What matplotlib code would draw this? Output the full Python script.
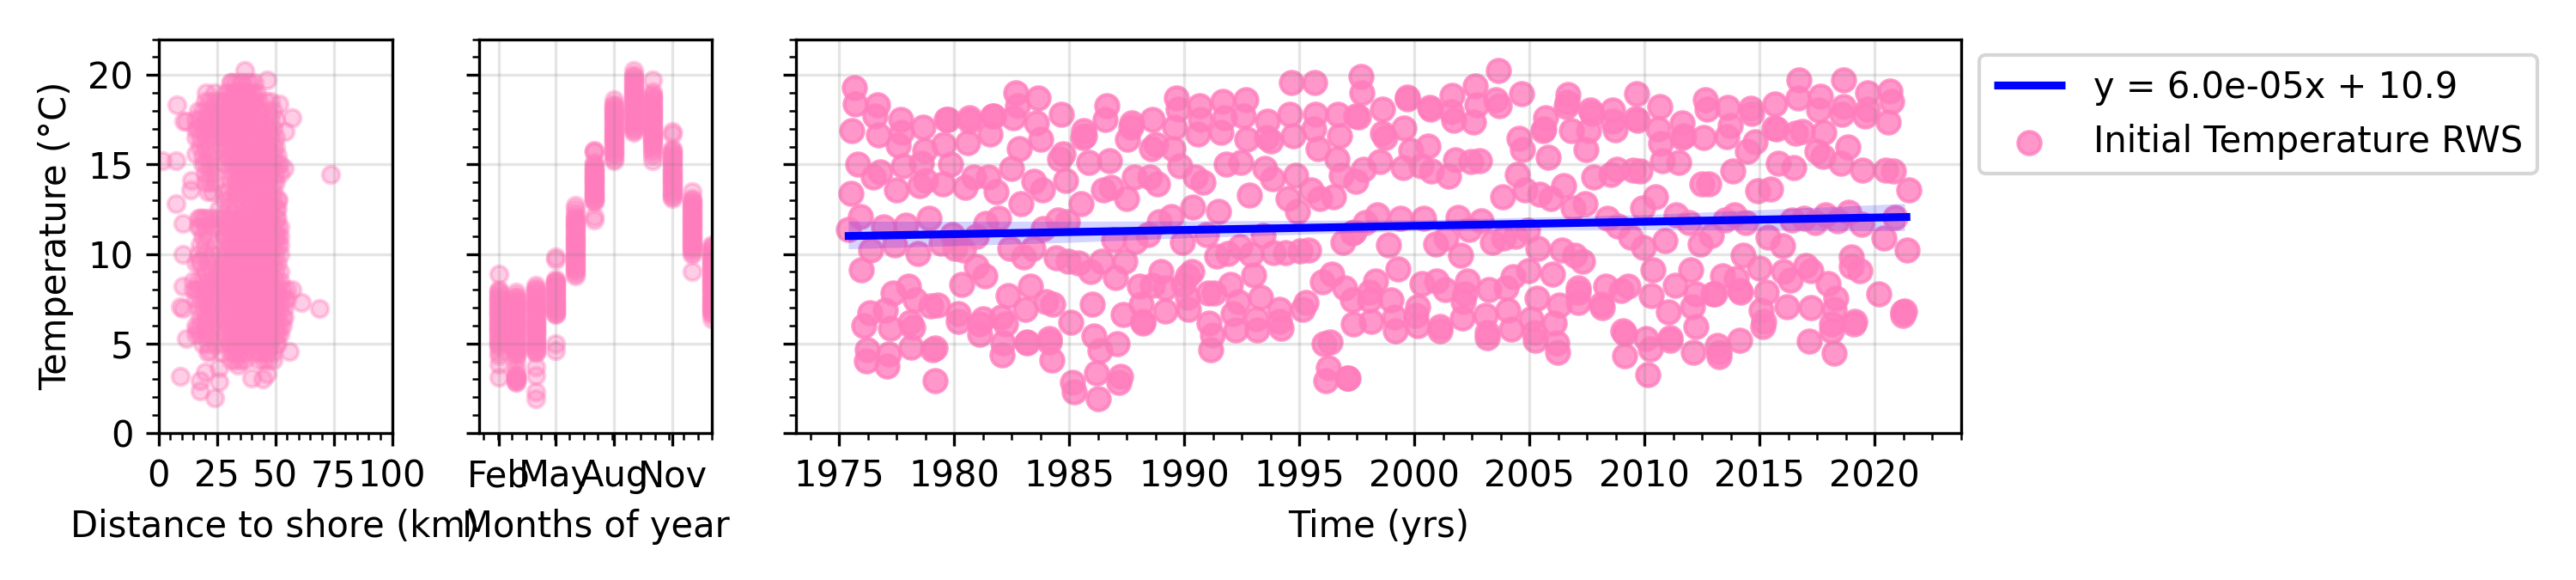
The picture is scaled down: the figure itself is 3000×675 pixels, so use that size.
import numpy as np
import matplotlib
matplotlib.use("Agg")
import matplotlib.pyplot as plt
from matplotlib.ticker import MultipleLocator, FixedLocator, AutoMinorLocator

# ---------- time series: decimal year / temperature ----------
years = [1975.65,1975.7,1975.57,1976.67,1976.58,1976.72,1977.58,1977.68,1977.72,1978.67,1975.83,1976.47,1976.8,1977.8,1978.58,1978.73,1975.5,1977.48,1978.5,1978.78,1979.5,1979.67,1979.75,1979.55,1979.85,1980.58,1980.65,1980.68,1981.58,1981.72,1981.68,1982.58,1982.68,1982.75,1983.67,1983.58,1983.75,1982.82,1984.65,1984.72,1984.6,1985.63,1985.67,1985.6,1986.63,1986.58,1985.85,1986.73,1984.83,1982.48,1980.85,1981.47,1980.48,1981.82,1983.48,1983.82,1982.92,1985.52,1986.47,1986.83,1987.48,1987.82,1988.5,1988.83,1987.55,1987.72,1987.68,1988.63,1988.75,1988.57,1989.52,1989.67,1989.72,1989.58,1989.82,1990.47,1990.8,1990.38,1991.48,1990.67,1990.72,1990.58,1991.67,1991.73,1991.6,1992.68,1992.58,1992.73,1993.63,1993.58,1993.77,1994.58,1994.72,1994.65,1995.67,1995.72,1995.62,1995.82,1996.67,1996.73,1996.62,1996.83,1997.45,1991.82,1992.47,1993.5,1993.82,1994.85,1992.83,1994.5,1994.92,1995.5,1995.9,1996.5,
1975.4,1975.92,1976.92,1977.9,1978.92,1976.38,1977.42,1978.42,1979.43,1979.92,1980.02,1980.4,1980.95,1981.38,1981.92,1982.42,1983.0,1983.42,1983.88,1984.5,1984.92,1984.42,1984.97,1985.4,1985.92,1986.4,1987.42,1987.0,1986.92,1987.88,1988.42,1988.92,1989.42,1989.92,1990.97,1991.4,1991.88,1992.42,1992.92,1993.42,1993.88,1994.38,1995.02,1995.42,1996.88,1997.3,1988.98,1990.13,1990.33,1989.97,1993.02,1992.0,1996.0,1996.42,1996.98,1975.98,1980.98,1981.33,1980.32,
1977.33,1978.0,1978.32,1978.97,1979.3,1977.02,1976.33,1976.07,1977.25,1978.08,1978.22,1980.18,1980.17,1981.25,1981.13,1981.13,1982.05,1982.22,1982.12,1982.07,1982.33,1983.3,1983.08,1984.0,1984.3,1985.08,1986.0,1987.33,1988.07,1988.12,1988.22,1988.22,1988.63,1989.18,1989.17,1990.17,1990.13,1991.05,1991.3,1992.35,1993.3,1992.13,1992.22,1993.18,1993.13,1994.13,1994.22,1994.13,1995.13,1995.3,1997.33,1997.3,1991.07,1991.23,1991.15,1986.08,1987.1,1986.32,1983.18,1983.18,1984.13,1984.13,1984.25,1978.13,1979.18,1979.08,1976.23,1976.18,1977.15,1977.08,1979.17,1985.15,1985.23,1986.17,1987.22,1987.15,1986.25,1996.08,1996.35,1996.25,1996.15,1997.08,1997.13,
1997.67,1997.73,1997.55,1998.63,1998.6,1998.73,1999.55,1999.68,1999.68,2000.68,2000.72,2001.65,2001.58,2001.72,2002.63,2002.72,2002.55,2003.65,2003.55,2003.68,2004.65,1999.83,2000.58,2000.3,2000.75,1999.5,1998.5,1997.8,1997.47,2001.47,2001.8,2002.47,2002.83,2004.55,2004.68,2005.8,2004.48,2004.8,2005.43,2005.93,2006.47,2003.82,2006.88,2007.4,2005.72,2005.63,2005.6,2006.67,2006.63,2006.58,2006.83,2007.55,2007.47,2007.63,2007.72,2008.63,2008.63,2008.72,2009.67,2009.63,2009.68,2010.67,2010.58,2010.72,2010.77,2011.47,2007.8,2008.8,2008.52,2009.5,2009.8,2012.5,2012.8,2010.47,2009.92,2011.65,2011.63,2011.72,2012.55,2012.63,2012.72,2013.63,2013.72,2013.58,2013.83,2014.47,2014.82,2014.63,2014.67,2015.67,2015.63,2015.72,2014.92,2015.47,2015.8,2016.5,2016.72,2016.67,2016.55,2016.85,2017.63,2017.58,2017.78,2017.48,2017.75,2018.65,2018.63,2018.58,2019.68,2019.68,2019.58,2018.85,2018.52,2019.47,2020.67,2020.75,2020.58,2020.47,2020.8,2021.5,
1998.4,1999.4,2000.4,2001.88,2002.9,1997.88,1997.38,1998.88,2000.92,2001.38,2002.0,2002.38,2003.38,2003.88,2004.38,2004.92,2005.38,2006.42,2006.97,2007.3,2008.38,2008.85,2009.38,2009.97,2010.88,2011.38,2011.92,2012.42,2012.92,2013.5,2013.92,2014.38,2015.38,2016.0,2016.42,2016.92,2017.42,2017.88,2018.38,2018.88,2019.42,2020.42,2020.88,2021.42,2014.3,
1999.3,1998.3,1998.05,1998.05,1998.13,1998.97,1999.13,1999.17,2000.13,2000.08,2000.13,2000.32,2000.97,2001.33,2001.13,2001.13,2002.08,2002.3,2002.18,2002.13,2003.25,2003.08,2003.17,2003.18,2003.97,2004.3,2004.05,2004.22,2004.97,2005.05,2005.22,2005.25,2006.0,2005.32,2006.3,2006.08,2006.17,2006.22,2007.13,2007.13,2007.13,2008.3,2008.13,2008.15,2009.0,2009.3,2009.05,2009.15,2009.15,2010.08,2010.25,2010.3,2010.38,2011.02,2011.32,2012.02,2011.13,2011.13,2012.22,2012.08,2012.22,2012.13,2013.05,2012.97,2013.38,2013.97,2014.18,2014.13,2015.0,2015.3,2015.05,2015.18,2015.13,2014.13,2013.17,2013.25,2013.25,2010.13,2016.05,2016.33,2016.18,2017.0,2017.22,2017.97,2018.3,2017.22,2017.17,2018.25,2018.13,2018.13,2018.22,2018.97,2019.0,2019.35,2019.13,2019.08,2020.18,2021.22,2021.3,2021.22]
temps = [19.3,18.4,16.9,18.35,17.7,16.65,16.07,17.5,16.8,17.1,15.0,14.3,14.6,14.9,15.05,15.8,13.4,13.6,13.8,14.1,13.9,17.5,17.5,16.1,15.0,16.2,17.6,17.4,16.7,17.7,17.7,17.6,19.0,18.3,18.7,17.3,16.4,15.9,17.8,15.6,15.3,16.9,16.6,16.5,18.3,17.5,15.1,15.2,14.1,14.8,14.3,14.3,13.7,13.5,14.05,13.6,12.8,12.8,13.6,13.7,13.1,14.3,14.3,13.9,16.4,17.3,17.1,17.5,16.1,15.9,15.9,18.7,18.1,17.1,14.9,14.3,14.0,12.6,12.4,18.3,17.5,16.7,18.5,17.6,16.8,18.6,17.7,16.4,17.4,16.5,16.3,17.8,16.6,19.6,19.6,17.8,17.0,15.9,17.8,16.6,15.3,14.4,17.7,15.0,15.1,14.8,14.2,14.4,13.3,13.1,12.4,13.6,13.1,13.2,
11.35,12.1,11.5,11.6,12.0,10.2,10.5,10.05,10.6,11.1,10.3,10.2,11.0,11.7,12.0,10.3,9.85,10.3,11.4,11.9,11.8,9.8,9.6,9.5,9.0,9.6,9.6,8.7,10.8,10.7,11.1,11.8,12.1,10.65,11.1,9.9,10.05,10.4,10.0,11.05,10.1,10.1,10.15,10.2,10.65,11.2,9.0,8.8,9.0,8.3,8.85,8.3,8.45,8.9,8.1,9.1,9.3,8.8,8.3,
7.8,8.2,7.45,7.1,7.15,6.85,6.7,6.0,5.85,6.2,5.9,6.65,6.25,6.4,6.1,5.5,6.5,6.1,5.05,4.35,7.7,8.2,6.9,7.35,7.2,6.2,7.2,6.6,8.2,7.2,6.25,6.15,8.25,8.1,6.8,6.9,7.6,7.8,7.8,7.35,7.6,6.65,5.75,5.75,6.4,6.9,5.85,6.25,6.9,7.3,6.1,7.45,6.15,5.45,4.65,5.4,5.0,4.6,5.05,5.1,5.3,5.1,4.1,4.8,4.75,4.65,4.65,4.05,4.4,3.75,2.95,2.85,2.3,3.35,3.15,2.85,1.9,5.0,5.1,3.65,2.95,3.05,3.05,
19.9,19.0,17.65,18.1,16.75,16.5,17.05,18.65,18.75,18.2,18.1,18.85,17.95,17.45,19.4,18.35,17.35,20.25,18.6,18.3,18.95,15.8,16.05,14.9,14.65,14.85,15.15,14.75,14.05,14.35,15.25,15.15,15.2,16.45,15.85,15.4,14.45,13.6,13.35,13.1,13.8,13.2,12.55,12.8,17.6,17.0,16.9,18.9,18.45,18.25,16.9,16.9,15.85,18.05,17.85,18.05,17.4,16.95,18.95,17.55,17.45,18.25,17.0,16.15,15.2,15.1,14.3,14.75,14.45,14.7,14.65,13.9,13.9,13.2,12.55,17.3,16.5,16.6,16.5,18.6,18.1,18.2,17.2,16.55,14.65,15.75,16.25,18.15,17.85,18.4,17.05,17.0,13.55,13.65,15.05,14.85,19.7,18.7,16.75,16.85,18.8,18.05,16.8,15.75,15.45,19.7,18.25,17.8,19.0,18.1,17.7,16.0,15.05,14.7,19.1,18.5,17.35,14.7,14.65,13.6,
12.2,12.0,12.0,12.05,11.85,11.75,11.25,10.5,10.55,10.9,9.95,11.35,10.65,10.9,11.0,11.3,10.3,10.2,9.95,9.6,12.0,11.55,10.95,10.35,10.75,12.2,11.75,10.55,11.05,11.9,12.2,11.75,10.95,10.45,11.9,12.0,11.75,12.2,11.85,12.35,11.65,10.9,12.05,10.2,9.95,
9.15,8.5,7.85,7.45,6.25,7.45,6.5,5.7,7.05,6.55,6.0,8.35,8.5,8.0,5.95,5.7,6.45,8.5,7.75,7.35,8.0,6.55,5.6,5.35,8.1,8.75,6.85,5.8,9.05,6.4,5.6,5.2,8.9,7.55,7.15,6.15,5.05,4.5,8.1,7.85,7.3,8.2,7.2,7.0,7.95,8.2,5.7,5.55,4.3,5.3,4.7,7.7,9.1,6.75,8.25,9.1,5.35,5.2,7.75,7.05,5.95,4.5,7.75,7.75,8.8,8.65,7.85,7.95,9.2,7.85,6.85,6.25,5.95,5.2,4.9,4.5,4.25,3.25,9.0,8.55,7.05,9.35,9.05,8.35,7.55,7.0,5.15,6.9,6.1,5.7,4.45,9.85,9.3,9.05,6.25,6.1,7.75,6.75,6.8,6.55]

# ---------- trend and its confidence band ----------
trend_years = [1975.25, 2021.55]
trend_temps = [11.0, 12.07]
band_years = [1975.4, 1985.0, 1990.0, 2000.0, 2010.0, 2021.3]
band_high = [11.83, 11.83, 11.85, 11.9, 12.2, 12.82]
band_low = [10.29, 10.65, 10.9, 11.3, 11.35, 11.3]

# ---------- temperature by month ----------
month_names = ["Feb", "May", "Aug", "Nov"]
month_days = [31, 59, 90, 120, 151, 181, 212, 243, 273, 304, 334, 365]
t_feb = [8.9,8.0,7.9,7.8,7.7,7.6,7.5,7.4,7.35,7.2,7.1,7.0,6.9,6.8,6.7,6.6,6.55,6.4,6.3,6.2,6.1,6.0,5.9,5.8,5.75,5.6,5.5,5.4,5.3,5.2,5.1,5.0,4.9,4.8,4.5,4.3,3.85,3.1]
t_mar = [7.85,7.7,7.6,7.5,7.4,7.3,7.2,7.1,7.0,6.9,6.8,6.7,6.6,6.5,6.4,6.3,6.2,6.1,6.0,5.9,5.8,5.7,5.6,5.5,5.4,5.3,5.2,5.1,5.0,4.9,4.8,4.7,4.6,4.5,4.4,4.3,4.1,3.6,3.3,3.2,3.1,3.05,3.0,2.95,2.9,2.85]
t_apr = [8.25,8.1,8.0,7.9,7.8,7.7,7.6,7.5,7.4,7.3,7.2,7.1,7.0,6.9,6.8,6.7,6.6,6.5,6.4,6.3,6.2,6.1,6.0,5.9,5.8,5.7,5.6,5.5,5.4,5.3,5.2,5.1,5.0,4.9,4.8,4.7,4.6,4.5,4.5,3.7,3.2,2.3,1.9]
t_may = [9.85,9.7,8.6,8.5,8.45,8.4,8.3,8.2,8.1,8.0,7.9,7.85,7.75,7.7,7.6,7.5,7.4,7.35,7.25,7.2,7.1,7.0,6.95,6.85,6.8,6.7,6.65,6.6,5.0,4.6]
t_jun = [12.7,12.5,12.3,12.1,12.0,11.9,11.8,11.7,11.6,11.5,11.4,11.3,11.2,11.1,11.0,10.9,10.8,10.7,10.6,10.5,10.4,10.3,10.2,10.1,10.0,9.9,9.8,9.7,9.6,9.5,9.4,9.3,9.2,9.1,9.0,8.9,8.76]
t_jul = [15.8,15.75,15.7,15.1,15.0,14.9,14.8,14.75,14.7,14.6,14.5,14.4,14.3,14.25,14.2,14.1,14.0,13.95,13.9,13.8,13.7,13.65,13.6,13.5,13.4,13.35,13.3,13.2,13.1,13.05,13.0,12.9,12.1,11.9]
t_aug = [18.6,18.4,18.3,18.2,18.1,18.0,17.9,17.8,17.7,17.6,17.5,17.4,17.3,17.2,17.1,17.0,16.9,16.8,16.7,16.6,16.5,16.4,16.3,16.2,16.1,16.0,15.9,15.8,15.7,15.6,15.5,15.3,15.2]
t_sep = [20.25,20.0,19.9,19.8,19.7,19.6,19.5,19.4,19.3,19.2,19.1,19.0,18.9,18.8,18.7,18.6,18.5,18.4,18.3,18.2,18.1,18.0,17.9,17.8,17.7,17.6,17.5,17.4,17.3,17.2,17.1,17.0,16.9,16.8]
t_oct = [19.7,19.05,18.9,18.8,18.7,18.6,18.5,18.4,18.3,18.2,18.1,18.0,17.9,17.8,17.7,17.6,17.5,17.4,17.3,17.2,17.1,17.0,16.9,16.8,16.7,16.6,16.5,16.4,16.3,16.2,16.1,16.0,15.85,15.7,15.5,15.2]
t_nov = [16.85,16.7,15.9,15.8,15.7,15.6,15.5,15.4,15.3,15.2,15.1,15.0,14.9,14.8,14.7,14.6,14.5,14.4,14.3,14.2,14.1,14.0,13.9,13.8,13.7,13.6,13.5,13.4,13.3,13.2,13.1]
t_dec = [13.5,13.1,13.0,12.9,12.8,12.7,12.6,12.5,12.4,12.3,12.2,12.1,12.0,11.9,11.8,11.7,11.6,11.5,11.4,11.3,11.2,11.1,11.0,10.9,10.8,10.7,10.6,10.5,10.4,10.3,10.2,10.1,10.0,9.0]
t_jan = [10.5,10.4,10.3,10.2,10.1,10.0,9.9,9.8,9.7,9.6,9.5,9.4,9.3,9.2,9.1,9.0,8.9,8.8,8.7,8.6,8.5,8.4,8.3,8.2,8.1,8.0,7.9,7.8,7.7,7.6,7.5,7.4,7.3,7.2,7.1,7.0,6.9,6.8,6.7,6.6,6.4]
month_temps = [t_feb,t_mar,t_apr,t_may,t_jun,t_jul,t_aug,t_sep,t_oct,t_nov,t_dec,t_jan]

# ---------- temperature by distance to shore ----------
lone_km = [8.0,10.7,11.9,1.7,7.4,73.8,7.4,10.4,46.4,37,57.2,54.4,51.7,20.5,30.9,14.3,13.7,15.9,54,51.3,10.4,17.8,10.4,9.4,10.6,11.9,16.5,61.2,68.8,56,9.4,26,26,19.9,18,17.8,23.9,40,44.7,46.4,34,21.7]
lone_temp = [18.35,17.4,17.4,15.2,15.2,14.45,12.8,11.7,19.7,20.25,17.6,16.85,18.4,19,19.6,14.1,13.6,15.6,14.8,13.05,10,9.6,8.2,7.05,6.95,5.3,5.8,7.3,6.95,4.55,3.15,3.65,2.9,3.4,2.95,2.35,1.95,3.05,3.0,3.3,3.8,4.6]
blob_rows = [
 (19.6,[31,33,35,36,38,39,41]),
 (19.0,[24,29,30,32,33,35,36,37,38,40,41,42]),
 (18.5,[20,22,24,26,28,29,31,32,34,35,37,38,40,41,43,46,48]),
 (18.0,[17,19,21,23,25,27,28,30,31,33,34,36,37,39,40,42,44,47,49]),
 (17.5,[16,18,20,21,23,25,27,28,30,32,33,35,36,38,39,41,43,46,48,50]),
 (17.0,[16,17,19,21,22,24,26,28,29,31,32,34,35,37,38,40,42,44,46,47,49]),
 (16.5,[16,18,20,22,24,27,28,30,31,33,34,36,37,39,41,43,45,46,48,50]),
 (16.0,[18,20,22,27,29,30,32,33,35,36,38,39,41,44,46,47,49,50]),
 (15.5,[19,21,23,28,30,31,33,34,36,38,39,41,44,45,47,49,51]),
 (15.0,[19,20,22,24,28,31,32,34,35,37,38,40,42,44,45,47,49,51,52]),
 (14.5,[20,22,24,31,32,34,36,37,39,40,42,44,45,47,48,50,52]),
 (14.0,[20,22,24,31,33,34,36,38,39,41,44,46,47,49,50]),
 (13.5,[21,23,28,30,33,35,37,39,41,44,46,47,49]),
 (13.0,[28,30,33,36,38,40,42,44,46,47,49,51]),
 (12.5,[26,30,33,37,39,41,44,45,47,48,50,51]),
 (12.0,[17,18,19,20,22,24,26,28,30,32,33,35,36,38,40,42,44,45,47,48,50,51]),
 (11.5,[17,18,20,23,25,27,29,31,32,34,36,38,40,42,44,46,47,49,51,52]),
 (11.0,[19,21,28,29,31,33,34,36,37,39,41,43,45,46,48,50,51,52]),
 (10.5,[18,20,24,28,30,31,33,35,37,38,40,42,44,46,47,49,51,52]),
 (10.0,[17,20,23,26,29,31,32,34,36,38,39,41,43,45,47,48,50,52]),
 (9.5,[16,18,21,24,27,29,31,33,35,37,39,40,42,44,46,47,49,51]),
 (9.0,[20,23,25,27,29,31,33,34,36,38,40,41,43,45,47,48,50,52]),
 (8.5,[15,17,19,21,23,25,27,29,31,32,34,36,38,39,41,43,45,46,48,50,52]),
 (8.0,[15,16,18,20,22,24,26,28,30,32,33,35,37,39,41,42,44,46,47,49,51,53,55,57]),
 (7.5,[16,18,20,23,25,27,29,31,33,34,36,38,40,41,43,45,47,48,50,52,54,55]),
 (7.0,[17,19,21,23,25,28,30,32,33,35,37,39,40,42,44,45,47,49,50,52,54]),
 (6.5,[18,20,22,24,26,28,31,32,34,36,37,39,41,42,44,46,47,49,51,53,54]),
 (6.0,[16,18,20,23,25,27,30,32,33,35,37,38,40,42,43,45,47,48,50,52,53]),
 (5.5,[16,18,20,22,25,28,31,33,34,36,38,40,41,43,45,46,48,50,51,52]),
 (5.0,[19,21,24,27,30,31,33,35,37,38,40,42,44,45,47,48,50,51]),
 (4.5,[21,27,31,32,34,35,37,41,43,44,46,47,49]),
 (4.1,[31,33,35,37,43,45,47,49]),
]
blob_km = [d for _, row in blob_rows for d in row]
blob_temp = [t for t, row in blob_rows for _ in row]
shore_km = lone_km + blob_km
shore_temp = lone_temp + blob_temp

# ---------- labels ----------
x_labels = ["Distance to shore (km)", "Months of year", "Time (yrs)"]
y_label = "Temperature (°C)"
legend_labels = ["y = 6.0e-05x + 10.9", "Initial Temperature RWS"]

# ---------- figure ----------
W, H = 3000, 675
fig = plt.figure(figsize=(10, 2.25), dpi=300)
def box(x0, x1, y0=45.5, y1=504):
    return [x0 / W, 1 - y1 / H, (x1 - x0) / W, (y1 - y0) / H]
ax1 = fig.add_axes(box(184.5, 456.5))
ax2 = fig.add_axes(box(557.5, 829.5))
ax3 = fig.add_axes(box(927, 2284))

PINK = "#FF7DBD"
ax1.scatter(shore_km, shore_temp, s=22, linewidths=1, color=PINK, alpha=0.38)
for day, vals in zip(month_days, month_temps):
    ax2.scatter([day] * len(vals), vals, s=22, linewidths=1, color=PINK, alpha=0.38)
pts = ax3.scatter(years, temps, s=40, linewidths=1, color=PINK, alpha=0.8, label=legend_labels[1])
ax3.fill_between(band_years, band_low, band_high, color="blue", alpha=0.17, lw=0, zorder=2)
line, = ax3.plot(trend_years, trend_temps, color="blue", lw=2.2, label=legend_labels[0],
                 solid_capstyle="butt")

for ax in (ax1, ax2, ax3):
    ax.set_ylim(0, 22)
    ax.yaxis.set_major_locator(MultipleLocator(5))
    ax.yaxis.set_minor_locator(MultipleLocator(1))
    ax.grid(True, which="major", color="grey", alpha=0.2, lw=0.8)

ax1.set_xlim(0, 100)
ax1.xaxis.set_major_locator(MultipleLocator(25))
ax1.xaxis.set_minor_locator(MultipleLocator(5))
ax1.set_xlabel(x_labels[0])
ax1.set_ylabel(y_label)

ax2.set_xlim(0, 366)
ax2.set_xticks([31, 120, 212, 304])
ax2.set_xticklabels(month_names)
ax2.xaxis.set_minor_locator(FixedLocator(np.arange(7.4, 367, 22.4)))
ax2.set_xlabel(x_labels[1])
ax2.tick_params(axis="y", labelleft=False)

ax3.set_xlim(1973.13, 2023.76)
ax3.xaxis.set_major_locator(MultipleLocator(5))
ax3.xaxis.set_minor_locator(AutoMinorLocator(4))
ax3.set_xlabel(x_labels[2])
ax3.tick_params(axis="y", labelleft=False)

ax3.legend(handles=[line, pts], loc="upper left", bbox_to_anchor=(2305 / W, 1 - 64 / H),
           bbox_transform=fig.transFigure, borderaxespad=0, fontsize=10)

fig.savefig("out.png", dpi=300)
